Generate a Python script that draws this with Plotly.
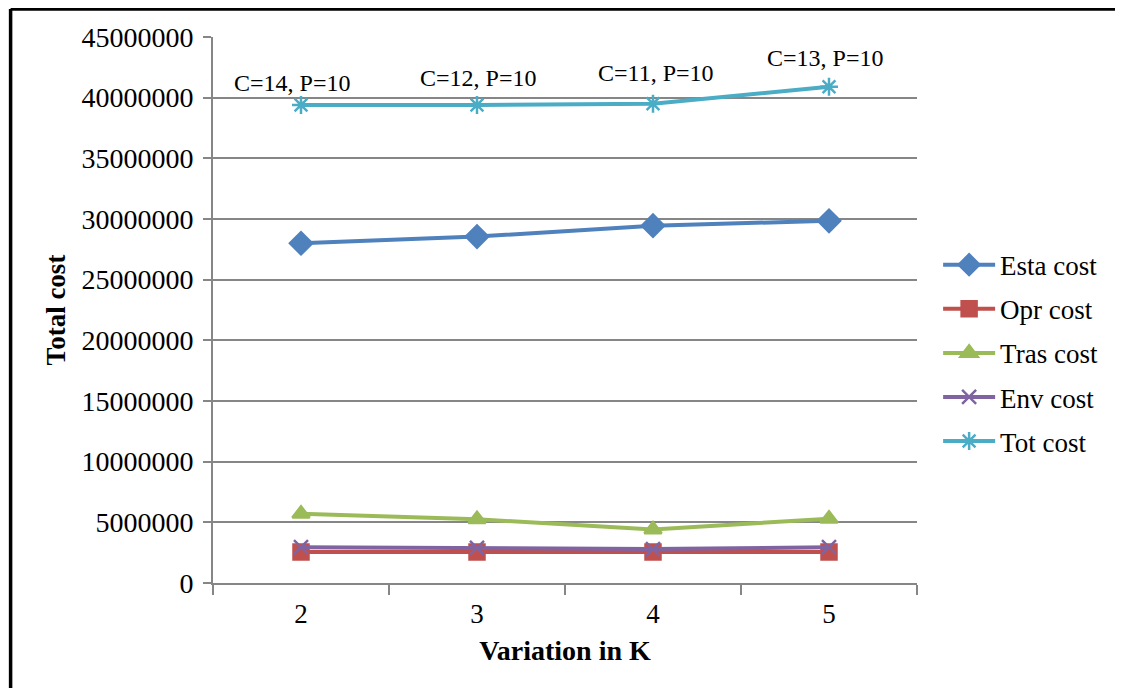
import plotly.graph_objects as go

categories = ["2", "3", "4", "5"]
esta_cost = [28000000, 28550000, 29450000, 29850000]
opr_cost = [2550000, 2550000, 2550000, 2550000]
tras_cost = [5700000, 5250000, 4400000, 5300000]
env_cost = [2950000, 2900000, 2800000, 2950000]
tot_cost = [39400000, 39400000, 39500000, 40900000]
labels = ["C=14, P=10", "C=12, P=10", "C=11, P=10", "C=13, P=10"]
label_y = [41250000, 41650000, 42050000, 43300000]
label_dx = [-9, 1, 3, -4]
y_ticks = list(range(0, 45000001, 5000000))

FONT = "Liberation Serif"

series = [
    ("Esta cost", esta_cost, "#4F81BD", "diamond", 17),
    ("Opr cost", opr_cost, "#C0504D", "square", 15),
    ("Tras cost", tras_cost, "#9BBB59", "triangle-up", 15),
    ("Env cost", env_cost, "#8064A2", "x-thin-open", 14),
    ("Tot cost", tot_cost, "#4BACC6", "asterisk-open", 15),
]

fig = go.Figure()
for name, vals, color, sym, size in series:
    fig.add_trace(go.Scatter(
        x=categories, y=vals, name=name, mode="lines+markers",
        legendgroup=name,
        line=dict(color=color, width=4),
        marker=dict(symbol=sym, size=size, color=color,
                    line=dict(color=color, width=2.5)),
    ))

for i, (t, yv, dx) in enumerate(zip(labels, label_y, label_dx)):
    fig.add_annotation(x=i, y=yv, text=t, showarrow=False, xshift=dx,
                       font=dict(family=FONT, size=24, color="black"))

# outer black frame (left and top only visible)
fig.add_shape(type="line", xref="paper", yref="paper",
              x0=-0.2875, x1=-0.2875, y0=-0.4, y1=1.0513,
              line=dict(color="black", width=3.5))
fig.add_shape(type="line", xref="paper", yref="paper",
              x0=-0.2875, x1=1.6, y0=1.0513, y1=1.0513,
              line=dict(color="black", width=3.5))

fig.update_layout(
    width=1107, height=680,
    margin=dict(l=205, r=196, t=29, b=105),
    paper_bgcolor="white", plot_bgcolor="white",
    font=dict(family=FONT, size=28, color="black"),
    showlegend=True,
    legend=dict(x=1.03, xanchor="left", y=0.421, yanchor="middle",
                font=dict(family=FONT, size=27, color="black"),
                itemwidth=52, tracegroupgap=6, bgcolor="rgba(0,0,0,0)"),
    xaxis=dict(
        type="category", tickson="boundaries", range=[-0.5, 3.5],
        showgrid=False, showline=True, linecolor="#868686", linewidth=2,
        ticks="outside", ticklen=10, tickwidth=2, tickcolor="#868686",
        ticklabelstandoff=6,
        tickfont=dict(family=FONT, size=27),
        title=dict(text="<b>Variation in K</b>", font=dict(family=FONT, size=28), standoff=12),
        zeroline=False,
    ),
    yaxis=dict(
        range=[0, 45000000], tickvals=y_ticks,
        ticktext=[str(v) for v in y_ticks],
        showgrid=True, gridcolor="#868686", gridwidth=2,
        showline=True, linecolor="#868686", linewidth=2,
        ticks="outside", ticklen=8, tickwidth=2, tickcolor="#868686",
        ticklabelstandoff=4,
        tickfont=dict(family=FONT, size=28),
        title=dict(text="<b>Total cost</b>", font=dict(family=FONT, size=27), standoff=8),
        zeroline=False,
    ),
)

fig.write_html("out.html")
